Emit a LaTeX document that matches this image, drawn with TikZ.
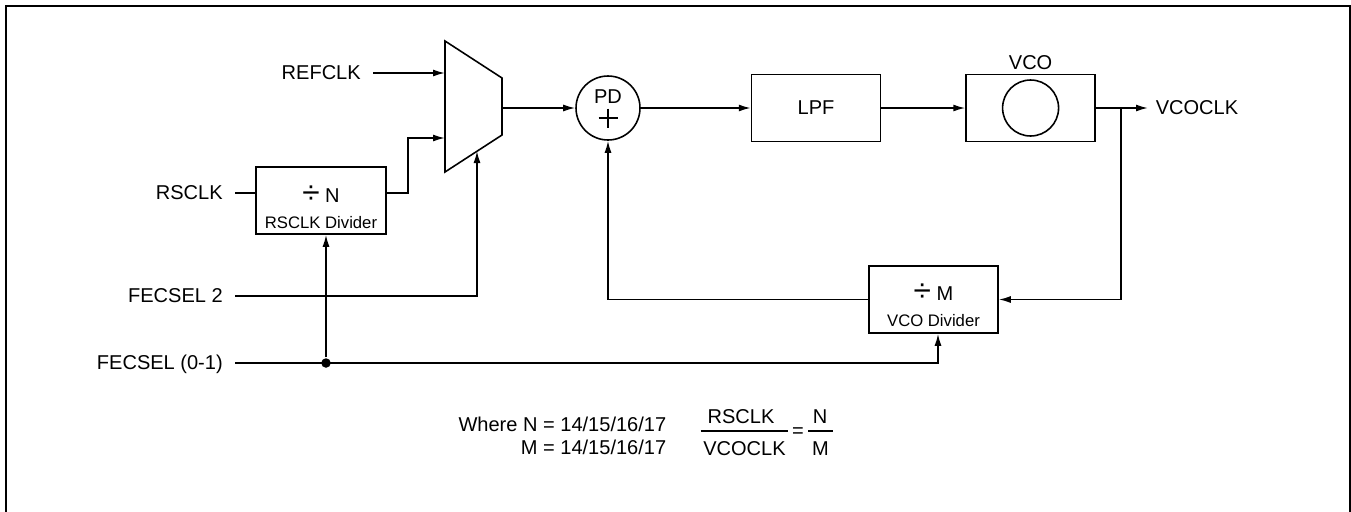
\documentclass[tikz,border=0pt]{standalone}
\usepackage{fontspec}
\setmainfont{Liberation Sans}
\usetikzlibrary{arrows.meta,positioning,calc}

\newcommand{\divsym}{\raisebox{-1pt}{\fontsize{18pt}{18pt}\selectfont ÷}}

\begin{document}
\begin{tikzpicture}[
    x=0.02cm, y=-0.02cm,
    line width=0.9pt,
    font=\fontsize{11.4pt}{13pt}\selectfont,
    block/.style={rectangle, draw, minimum width=2.58cm, minimum height=1.34cm, inner sep=0pt},
    signal/.style={inner xsep=0.23cm, inner ysep=0pt, text height=0.72em, text depth=0pt},
    formula/.style={inner sep=0pt, text height=0.72em, text depth=0pt},
    tag/.style={font=\fontsize{9.5pt}{11pt}\selectfont, inner sep=0pt},
    arrow/.style={-{Latex[length=0.24cm,width=0.14cm]}},
    frame/.style={line width=1.2pt}
]
    \useasboundingbox (0,0) rectangle (1351,511);
    \draw[frame] (6,520) -- (6,6) -- (1350,6) -- (1350,520);

    % Inputs
    \node[signal, anchor=east] (refclk) at (373,73) {REFCLK};
    \node[signal, anchor=east] (rsclk) at (235,193) {RSCLK};
    \node[signal, anchor=east] (fecsel2) at (235,296) {FECSEL 2};
    \node[signal, anchor=east] (fecsel01) at (235,363) {FECSEL (0-1)};

    % Mux
    \draw (445,41) -- (502,78) -- (502,135) -- (445,172) -- cycle;
    \coordinate (muxin1) at (445,73);
    \coordinate (muxin2) at (445,138);
    \coordinate (muxout) at (502,108);
    \coordinate (muxsel) at (477,151);

    % RSCLK divider
    \node[block, minimum width=2.6cm] (rsdiv) at (321,200.5) {};
    \node (rsdivtxt) at ([yshift=0.11cm]rsdiv.center) {\divsym\ N};
    \node[tag] (rsdivtag) at ([yshift=-0.45cm]rsdiv.center) {RSCLK Divider};

    % Phase detector
    \node[circle, draw, minimum size=1.28cm, inner sep=0pt] (pd) at (608,108) {};
    \node[inner sep=0pt] (pdtxt) at ([yshift=0.22cm]pd.center) {PD};
    \draw[line width=0.7pt] ($(pd)+(-9.5,10)$) -- ($(pd)+(9.5,10)$)
        ($(pd)+(0,0.5)$) -- ($(pd)+(0,19.5)$);

    % LPF and VCO
    \node[block, right=2.2cm of pd] (lpf) {LPF};
    \node[block, right=1.68cm of lpf, label={[inner sep=2pt]above:VCO}] (vco) {};
    \node[circle, draw, minimum size=1.12cm, inner sep=0pt] (osc) at (vco) {};
    \node[signal, anchor=west, inner xsep=0.14cm] (vcoclk) at (1148,108) {VCOCLK};
    \coordinate (tap) at (1121,108);

    % VCO divider
    \node[block] (vcodiv) at (933.5,299.5) {};
    \node (vcodivtxt) at ([yshift=0.13cm]vcodiv.center) {\divsym\ M};
    \node[tag] (vcodivtag) at ([yshift=-0.43cm]vcodiv.center) {VCO Divider};

    % Arrows
    \draw[arrow] (refclk.east) -- (muxin1);
    \draw (rsclk.east) -- (rsclk.east -| rsdiv.west);
    \draw[arrow] (rsclk.east -| rsdiv.east) -- ++(21,0) |- (muxin2);
    \draw[arrow] (fecsel2.east) -| (muxsel);
    \node[circle, fill, minimum size=0.19cm, inner sep=0pt] (join) at (326,363) {};
    \draw[arrow] (fecsel01.east) -| ([xshift=0.09cm]vcodiv.south);
    \draw[arrow] (join) -- (join |- rsdiv.south);
    \draw[arrow] (muxout) -- (pd.west);
    \draw[arrow] (pd.east) -- (lpf.west);
    \draw[arrow] (lpf.east) -- (vco.west);
    \draw[arrow] (vco.east) -- (vcoclk.west);
    \draw[arrow] (tap) |- (vcodiv.east);
    \draw[arrow] (vcodiv.west) -| (pd.south);

    % Ratio
    \node[formula, anchor=east] (wheren) at (667,425) {Where N = 14/15/16/17};
    \node[formula, anchor=east] (wherem) at (667,448) {M = 14/15/16/17};
    \node[formula] (num) at (741,417) {RSCLK};
    \node[formula] (den) at (744.5,449) {VCOCLK};
    \draw ($(den.west)+(-2,-18)$) -- ($(den.east)+(2,-18)$);
    \node[formula] (eq) at (798,431) {=};
    \node[formula] (ratn) at (820,417) {N};
    \node[formula] (ratm) at (820.5,449) {M};
    \draw ($(ratm.west)+(-3,-18)$) -- ($(ratm.east)+(3,-18)$);
\end{tikzpicture}
\end{document}
